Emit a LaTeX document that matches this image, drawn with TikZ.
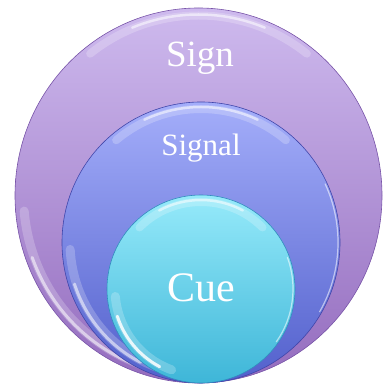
\documentclass[tikz,border=0pt]{standalone}
\usepackage{fontspec}
\setmainfont{Liberation Serif}
\usetikzlibrary{shapes.geometric}
\definecolor{signtop}{RGB}{206,186,238}
\definecolor{signbot}{RGB}{148,108,190}
\definecolor{signedge}{RGB}{120,84,168}
\definecolor{sigtop}{RGB}{164,174,250}
\definecolor{sigbot}{RGB}{82,96,204}
\definecolor{sigedge}{RGB}{64,70,170}
\definecolor{cuetop}{RGB}{150,234,250}
\definecolor{cuebot}{RGB}{62,182,216}
\definecolor{cueedge}{RGB}{50,140,190}
\tikzset{
  ring/.style={ellipse, inner sep=0pt},
  ksign/.style={ring, minimum width=367pt, minimum height=375pt, top color=signtop, bottom color=signbot, draw=signedge, line width=0.6pt},
  ksignal/.style={ring, minimum width=278pt, minimum height=281pt, top color=sigtop, bottom color=sigbot, draw=sigedge, line width=0.6pt},
  kcue/.style={ring, minimum width=188pt, minimum height=188pt, top color=cuetop, bottom color=cuebot, draw=cueedge, line width=0.6pt},
  klabel/.style={text=white, anchor=base, inner sep=0pt},
  gloss/.style={white, line cap=round, opacity=0.55},
  glosswide/.style={white, line cap=round, opacity=0.22},
}

\begin{document}
\begin{tikzpicture}[x=1pt, y=1pt]
  \useasboundingbox (0,0) rectangle (384,385);
  % outer ring
  \node[ksign] (sign) at (198.5,189.5) {};
  \draw[glosswide, line width=8pt] ([shift={(128:176 and 180)}]sign.center) arc (128:52:176 and 180);
  \draw[gloss, line width=2.5pt] ([shift={(112:177 and 181)}]sign.center) arc (112:68:177 and 181);
  \draw[glosswide, line width=9pt] ([shift={(185:175 and 179)}]sign.center) arc (185:258:175 and 179);
  \draw[gloss, line width=3pt] ([shift={(200:177 and 181)}]sign.center) arc (200:250:177 and 181);
  % middle ring
  \node[ksignal] (signal) at (201,142.5) {};
  \draw[glosswide, line width=8pt] ([shift={(130:132 and 133.5)}]signal.center) arc (130:50:132 and 133.5);
  \draw[gloss, line width=2.5pt] ([shift={(115:134 and 135.5)}]signal.center) arc (115:65:134 and 135.5);
  \draw[glosswide, line width=9pt] ([shift={(183:131 and 132.5)}]signal.center) arc (183:250:131 and 132.5);
  \draw[gloss, line width=3pt] ([shift={(198:133 and 134.5)}]signal.center) arc (198:243:133 and 134.5);
  \draw[gloss, line width=1.2pt] ([shift={(25:137 and 138.5)}]signal.center) arc (25:-30:137 and 138.5);
  % inner ring
  \node[kcue] (cue) at (201,96) {};
  \draw[glosswide, line width=8pt] ([shift={(135:87)}]cue.center) arc (135:45:87);
  \draw[gloss, line width=2.5pt] ([shift={(118:89)}]cue.center) arc (118:62:89);
  \draw[glosswide, line width=9pt] ([shift={(185:86)}]cue.center) arc (185:250:86);
  \draw[gloss, line width=3pt, opacity=0.85] ([shift={(198:88)}]cue.center) arc (198:242:88);
  \draw[gloss, line width=1.2pt] ([shift={(20:92)}]cue.center) arc (20:-35:92);
  % labels
  \node[klabel, font=\fontsize{37}{37}\selectfont] (signtxt) at (200,318) {Sign};
  \node[klabel, font=\fontsize{31}{31}\selectfont] (signaltxt) at (201,229) {Signal};
  \node[klabel, font=\fontsize{42}{42}\selectfont] (cuetxt) at (201,83) {Cue};
\end{tikzpicture}
\end{document}
